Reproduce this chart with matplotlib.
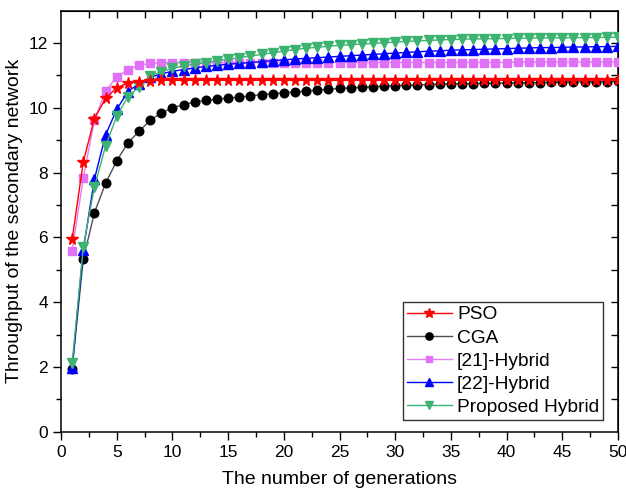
import matplotlib
matplotlib.use("Agg")
import matplotlib.pyplot as plt

plt.rcParams['font.family'] = ['Liberation Sans', 'DejaVu Sans']

generations = list(range(1, 51))

pso = [5.94, 8.33, 9.67, 10.29, 10.62, 10.77, 10.81, 10.84, 10.85, 10.85,
       10.85, 10.85, 10.85, 10.85, 10.85, 10.85, 10.85, 10.85, 10.85, 10.85,
       10.85, 10.85, 10.85, 10.85, 10.85, 10.85, 10.85, 10.85, 10.85, 10.85,
       10.85, 10.85, 10.85, 10.85, 10.85, 10.85, 10.85, 10.85, 10.85, 10.85,
       10.85, 10.85, 10.85, 10.85, 10.85, 10.85, 10.85, 10.86, 10.86, 10.86]

cga = [1.95, 5.33, 6.76, 7.67, 8.36, 8.92, 9.27, 9.62, 9.84, 10.00,
       10.10, 10.18, 10.23, 10.27, 10.30, 10.33, 10.37, 10.41, 10.44, 10.47,
       10.49, 10.52, 10.55, 10.57, 10.60, 10.62, 10.63, 10.65, 10.67, 10.69,
       10.70, 10.71, 10.72, 10.73, 10.74, 10.75, 10.75, 10.76, 10.76, 10.77,
       10.77, 10.78, 10.78, 10.79, 10.79, 10.80, 10.80, 10.81, 10.81, 10.82]

hybrid21 = [5.58, 7.84, 9.62, 10.52, 10.96, 11.18, 11.32, 11.37, 11.39, 11.40,
            11.40, 11.40, 11.40, 11.40, 11.40, 11.40, 11.40, 11.40, 11.40, 11.40,
            11.40, 11.40, 11.40, 11.40, 11.40, 11.40, 11.40, 11.40, 11.40, 11.40,
            11.40, 11.40, 11.40, 11.40, 11.40, 11.40, 11.40, 11.40, 11.40, 11.40,
            11.41, 11.41, 11.41, 11.41, 11.41, 11.41, 11.41, 11.41, 11.41, 11.41]

hybrid22 = [1.96, 5.61, 7.80, 9.16, 9.95, 10.50, 10.75, 10.94, 11.05, 11.13,
            11.18, 11.23, 11.28, 11.31, 11.35, 11.37, 11.40, 11.43, 11.46, 11.48,
            11.51, 11.53, 11.55, 11.57, 11.59, 11.61, 11.63, 11.65, 11.67, 11.69,
            11.71, 11.73, 11.75, 11.76, 11.78, 11.79, 11.80, 11.81, 11.82, 11.83,
            11.84, 11.85, 11.86, 11.86, 11.87, 11.88, 11.88, 11.89, 11.89, 11.90]

proposed = [2.11, 5.71, 7.56, 8.82, 9.74, 10.34, 10.65, 10.98, 11.12, 11.22,
            11.29, 11.35, 11.40, 11.45, 11.50, 11.55, 11.60, 11.65, 11.70, 11.75,
            11.80, 11.84, 11.87, 11.90, 11.93, 11.95, 11.97, 11.99, 12.01, 12.03,
            12.05, 12.07, 12.08, 12.10, 12.11, 12.12, 12.13, 12.13, 12.14, 12.14,
            12.15, 12.15, 12.16, 12.16, 12.16, 12.17, 12.17, 12.17, 12.18, 12.18]

labels = ["PSO", "CGA", "[21]-Hybrid", "[22]-Hybrid", "Proposed Hybrid"]
x_ticks = [0, 5, 10, 15, 20, 25, 30, 35, 40, 45, 50]
y_ticks = [0, 2, 4, 6, 8, 10, 12]

fig = plt.figure(figsize=(6.26, 4.90), dpi=100)
ax = fig.add_axes([61/626, 1 - 431.7/490, (618 - 61)/626, (431.7 - 10.7)/490])

ax.plot(generations, cga, color='#505050', lw=1.0, marker='o', ms=6.2,
        mfc='black', mec='black', label=labels[1], zorder=3)
ax.plot(generations, pso, color='#ff0000', lw=1.0, marker='*', ms=8.5,
        mfc='#ff0000', mec='#ff0000', label=labels[0], zorder=4)
ax.plot(generations, hybrid21, color='#e57cf5', lw=1.0, marker='s', ms=5.4,
        mfc='#e070f5', mec='#e070f5', label=labels[2], zorder=3)
ax.plot(generations, hybrid22, color='#0000ff', lw=1.0, marker='^', ms=6.8,
        mfc='#0000ff', mec='#0000ff', label=labels[3], zorder=3)
ax.plot(generations, proposed, color='#3cb371', lw=1.0, marker='v', ms=6.8,
        mfc='#3cb371', mec='#3cb371', label=labels[4], zorder=3)

ax.set_xlim(0, 50)
ax.set_ylim(0, 13)
ax.set_xticks(x_ticks)
ax.set_yticks(y_ticks)
ax.set_xticks([2.5 + 5 * i for i in range(10)], minor=True)
ax.set_yticks([1, 3, 5, 7, 9, 11], minor=True)
ax.tick_params(which='major', direction='out', length=6, width=1, labelsize=12.5)
ax.tick_params(which='minor', direction='out', length=3.5, width=1)
for s in ax.spines.values():
    s.set_linewidth(1.1)

top = ax.secondary_xaxis('top')
top.set_xticks([2.5 * i for i in range(1, 20)])
top.tick_params(direction='in', length=5, width=1, labeltop=False)
right = ax.secondary_yaxis('right')
right.set_yticks(list(range(1, 13)))
right.tick_params(direction='in', length=5, width=1, labelright=False)

ax.set_xlabel("The number of generations", fontsize=14, labelpad=8)
ax.set_ylabel("Throughput of the secondary network", fontsize=14, labelpad=4)

handles, labs = ax.get_legend_handles_labels()
order = [labs.index(l) for l in labels]
leg = ax.legend([handles[i] for i in order], [labs[i] for i in order],
                loc='lower right', bbox_to_anchor=(0.973, 0.028),
                fontsize=13.8, frameon=True, fancybox=False,
                edgecolor='black', handlelength=2.35, handletextpad=0.26,
                borderpad=0.2, labelspacing=0.3, borderaxespad=0.0,
                markerscale=0.85)
leg.get_frame().set_linewidth(1.0)

fig.savefig("out.png", dpi=100)
